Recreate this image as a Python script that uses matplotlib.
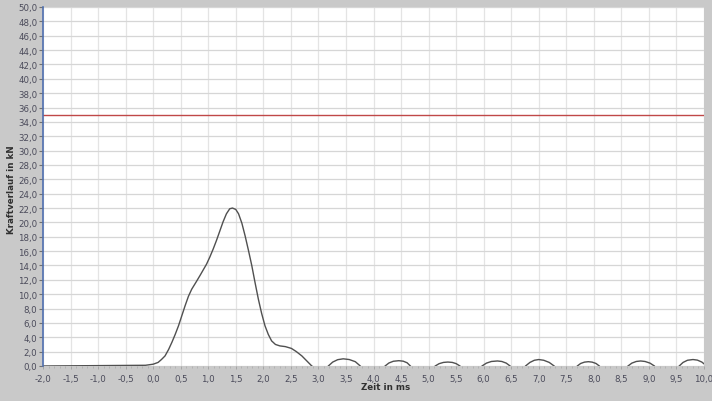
import matplotlib.pyplot as plt
import numpy as np
from matplotlib.ticker import MultipleLocator, FuncFormatter

# data (time in ms, force in kN)
t_pulse = [-2.0, -0.14, 0.0, 0.09, 0.15, 0.215, 0.28, 0.34, 0.40, 0.46, 0.52, 0.58, 0.64,
           0.70, 0.78, 0.85, 0.91, 0.97, 1.03, 1.09, 1.15, 1.21, 1.27, 1.33, 1.39,
           1.44, 1.50, 1.55, 1.61, 1.67, 1.73, 1.79, 1.85, 1.91, 1.97, 2.03, 2.09,
           2.15, 2.22, 2.30, 2.40, 2.51, 2.60, 2.70, 2.79, 2.88, 3.03]
f_pulse = [0.0, 0.1, 0.25, 0.5, 0.9, 1.4, 2.3, 3.3, 4.4, 5.6, 7.0, 8.4, 9.7,
           10.7, 11.7, 12.6, 13.4, 14.2, 15.2, 16.3, 17.5, 18.8, 20.1, 21.2, 21.9,
           22.0, 21.8, 21.2, 19.9, 18.1, 16.1, 14.0, 11.6, 9.3, 7.3, 5.6, 4.4,
           3.5, 3.0, 2.8, 2.7, 2.45, 2.0, 1.4, 0.7, 0.0, -0.8]

# small oscillation arcs after the pulse
arc_t = [
    [3.10, 3.18, 3.26, 3.35, 3.45, 3.56, 3.67, 3.76, 3.84],
    [4.13, 4.21, 4.28, 4.36, 4.46, 4.54, 4.61, 4.67, 4.75],
    [5.04, 5.12, 5.19, 5.27, 5.35, 5.43, 5.50, 5.57, 5.65],
    [5.89, 5.97, 6.05, 6.14, 6.25, 6.33, 6.41, 6.48, 6.56],
    [6.68, 6.76, 6.84, 6.92, 7.00, 7.09, 7.19, 7.28, 7.36],
    [7.62, 7.70, 7.76, 7.83, 7.90, 7.97, 8.04, 8.10, 8.18],
    [8.54, 8.62, 8.69, 8.77, 8.85, 8.93, 9.02, 9.10, 9.18],
    [9.47, 9.55, 9.62, 9.70, 9.80, 9.88, 9.96, 10.05, 10.13],
]
arc_f = [
    [-0.8, 0.0, 0.55, 0.88, 1.0, 0.9, 0.6, 0.0, -0.8],
    [-0.8, 0.0, 0.42, 0.66, 0.74, 0.67, 0.45, 0.0, -0.8],
    [-0.8, 0.0, 0.32, 0.50, 0.55, 0.50, 0.33, 0.0, -0.8],
    [-0.8, 0.0, 0.40, 0.63, 0.70, 0.63, 0.40, 0.0, -0.8],
    [-0.8, 0.0, 0.50, 0.80, 0.90, 0.80, 0.50, 0.0, -0.8],
    [-0.8, 0.0, 0.35, 0.54, 0.60, 0.54, 0.35, 0.0, -0.8],
    [-0.8, 0.0, 0.40, 0.63, 0.70, 0.63, 0.40, 0.0, -0.8],
    [-0.8, 0.0, 0.50, 0.80, 0.90, 0.82, 0.55, 0.0, -0.8],
]

limit = 35.0

t_all = list(t_pulse)
f_all = list(f_pulse)
for ts, fs in zip(arc_t, arc_f):
    t_all += ts
    f_all += fs

bg = '#c9c9c9'
fig = plt.figure(figsize=(7.12, 4.02), dpi=100, facecolor=bg)
ax = fig.add_axes([43 / 712, 35 / 402, 661 / 712, 359 / 402])
ax.set_facecolor('white')

ax.plot(t_all, f_all, color='#505050', lw=1.0, solid_joinstyle='round')
ax.axhline(limit, color='#c04848', lw=1.0)

ax.set_xlim(-2.0, 10.0)
ax.set_ylim(0, 50)
ax.xaxis.set_major_locator(MultipleLocator(0.5))
ax.xaxis.set_minor_locator(MultipleLocator(0.1))
ax.yaxis.set_major_locator(MultipleLocator(2.0))
fmt = FuncFormatter(lambda v, p: f'{v:.1f}'.replace('.', ','))
ax.xaxis.set_major_formatter(fmt)
ax.yaxis.set_major_formatter(fmt)

ax.grid(True, axis='y', color='#d6d6d6', lw=0.9)
ax.grid(True, axis='x', color='#e4e4e4', lw=0.9)
ax.set_axisbelow(True)

for s in ['top', 'right', 'bottom']:
    ax.spines[s].set_visible(False)
ax.spines['left'].set_color('#5070b0')
ax.spines['left'].set_linewidth(1.2)

ax.tick_params(axis='both', labelsize=6.2, labelcolor='#4a4a5a', color='#707070')
ax.tick_params(axis='y', length=3, width=0.8, pad=1)
ax.tick_params(axis='x', which='major', length=2.5, width=0.6, pad=3,
               direction='out', color='#a0a0a0')
ax.tick_params(axis='x', which='minor', length=1.5, width=0.5,
               direction='out', color='#a8a8a8')

fig.text(12 / 712, 1 - 190 / 402, 'Kraftverlauf in kN', rotation=90, fontsize=6.3,
         fontweight='bold', color='#303030', ha='center', va='center')
fig.text(361 / 712, 1 - 388 / 402, 'Zeit in ms', fontsize=6.3, fontweight='bold',
         color='#303030', ha='left', va='center')

plt.savefig('out.png', dpi=100, facecolor=bg)
